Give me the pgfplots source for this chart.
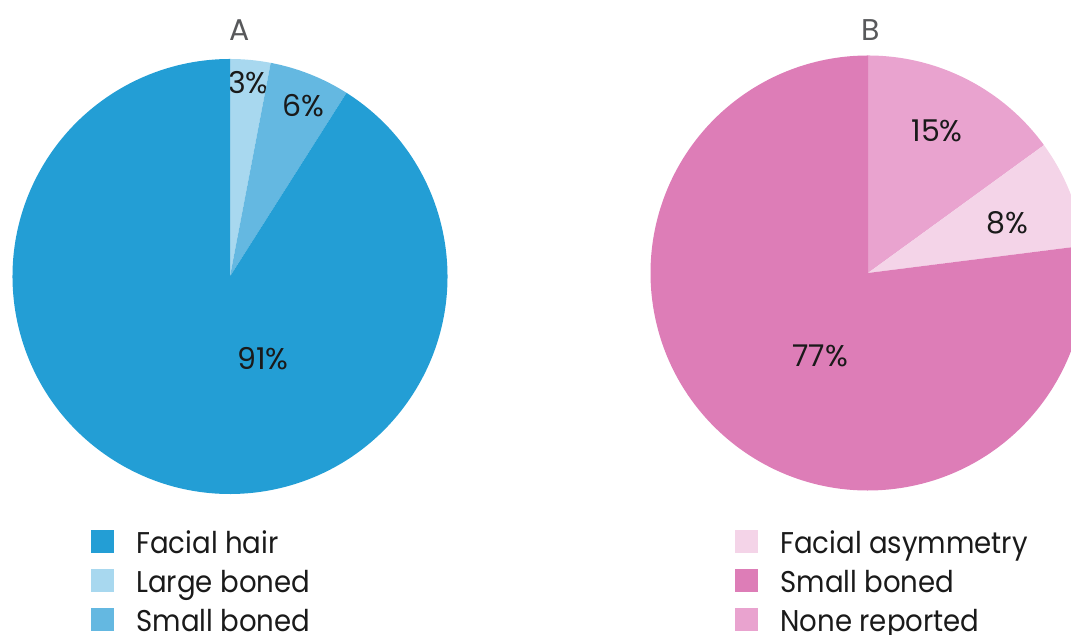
\documentclass[border=0pt]{standalone}
\usepackage{pgfplots}
\pgfplotsset{compat=1.18}
\usepackage{pgfplotstable}
\usepackage{fontspec}
\setmainfont{Poppins}
\newfontfamily\legfont[FakeStretch=0.92]{Poppins}

\definecolor{aHair}{HTML}{239ED5}
\definecolor{aLarge}{HTML}{A8D8EF}
\definecolor{aSmall}{HTML}{64B8E1}
\definecolor{bSmall}{HTML}{DD7DB7}
\definecolor{bNone}{HTML}{E9A3CF}
\definecolor{bAsym}{HTML}{F4D4E8}
\definecolor{titlegray}{HTML}{58595B}
\definecolor{txt}{HTML}{1A1A1A}

% slices clockwise from 12 o'clock; lx, ly = position of the percentage label
\pgfplotstableread{
label value col lx ly
{Large boned} 3 aLarge 248.5 552
{Small boned} 6 aSmall 303 529
{Facial hair} 91 aHair 263 276.5
}\pieA
\pgfplotstableread{
label value col lx ly
{None reported} 15 bNone 937 504.5
{Facial asymmetry} 8 bAsym 1007 412
{Small boned} 77 bSmall 820 279
}\pieB

\newcommand{\pctfont}{\fontsize{15}{18}\selectfont}
\def\radius{108.75pt}

\newcommand{\drawpie}[3]{%
  \pgfplotstablegetrowsof{#1}%
  \pgfmathtruncatemacro\lastrow{\pgfplotsretval-1}%
  \xdef\startang{90}%
  \pgfplotsforeachungrouped \i in {0,...,\lastrow}{%
    \pgfplotstablegetelem{\i}{value}\of{#1}\let\v\pgfplotsretval
    \pgfplotstablegetelem{\i}{col}\of{#1}\let\c\pgfplotsretval
    \pgfplotstablegetelem{\i}{lx}\of{#1}\let\lx\pgfplotsretval
    \pgfplotstablegetelem{\i}{ly}\of{#1}\let\ly\pgfplotsretval
    \pgfmathsetmacro\endang{\startang-3.6*\v}%
    \edef\temp{%
      \noexpand\fill[\c] (axis cs:#2,#3) -- ++(\startang:\radius)
        arc[start angle=\startang, end angle=\endang, radius=\radius] -- cycle;
      \noexpand\node[font=\noexpand\pctfont, text=txt, inner sep=0pt] at (axis cs:\lx,\ly) {\v\noexpand\%};
    }%
    \temp
    \xdef\startang{\endang}%
  }%
}

\newcommand{\legentry}[4]{% x, baseline y, colour, text
  \fill[#3] (axis cs:#1,#2+1) rectangle (axis cs:#1+23,#2+24);
  \node[anchor=base west, inner sep=0pt, font=\legfont\pctfont, text=txt] at (axis cs:#1+45,#2) {#4};
}

\begin{document}
\begin{tikzpicture}
\begin{axis}[
  at={(0,0)}, anchor=south west,
  scale only axis, x=0.5pt, y=0.5pt,
  xmin=0, xmax=1071, ymin=0, ymax=635,
  hide axis, clip=true,
]
  \drawpie{\pieA}{230}{358.5}
  \drawpie{\pieB}{868}{362}
  \node[font=\pctfont, text=titlegray, inner sep=0pt] at (axis cs:240,605) {A};
  \node[font=\pctfont, text=titlegray, inner sep=0pt] at (axis cs:871,605) {B};
  \legentry{91}{81}{aHair}{Facial hair}
  \legentry{91}{42}{aLarge}{Large boned}
  \legentry{91}{3}{aSmall}{Small boned}
  \legentry{735}{81}{bAsym}{Facial asymmetry}
  \legentry{735}{42}{bSmall}{Small boned}
  \legentry{735}{3}{bNone}{None reported}
\end{axis}
\pgfresetboundingbox
\useasboundingbox (0,0) rectangle (535.5pt,317.5pt);
\end{tikzpicture}
\end{document}
